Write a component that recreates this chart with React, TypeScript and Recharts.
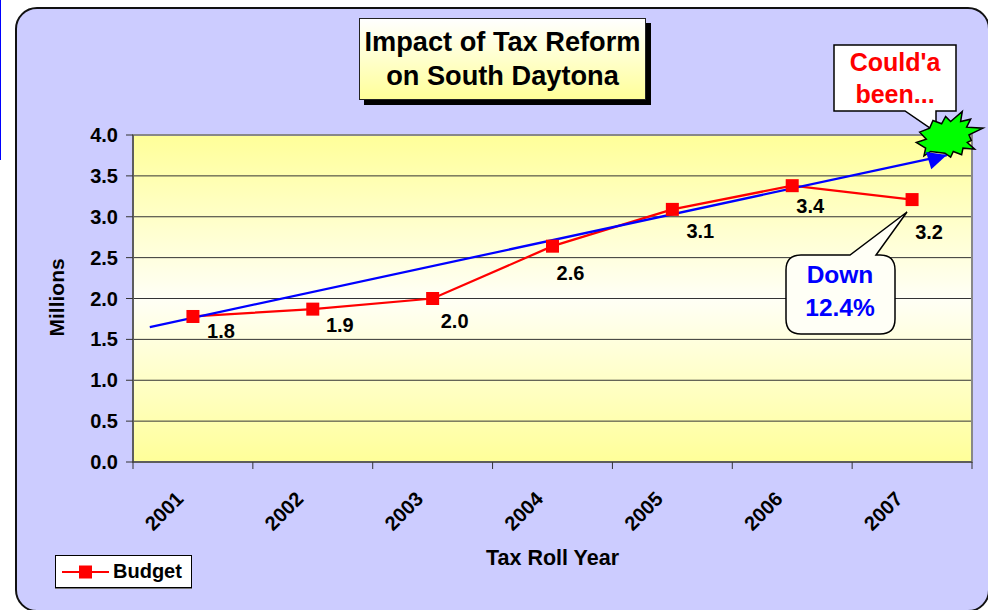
import React from "react";
import {
    ComposedChart,
    Line,
    XAxis,
    YAxis,
    CartesianGrid,
    ReferenceArea,
    ReferenceDot,
    Legend,
    LabelList,
} from "recharts";

const FONT = "'Liberation Sans', Arial, sans-serif";

const years = ["2001", "2002", "2003", "2004", "2005", "2006", "2007"];
const budget = [1.78, 1.87, 2.0, 2.64, 3.09, 3.38, 3.21];
const yTicks = [0, 0.5, 1, 1.5, 2, 2.5, 3, 3.5, 4];
const xTicks = [0, 1, 2, 3, 4, 5, 6, 7];

// trend arrow, in axis units (years sit at the middle of each slot)
const trendX = [0.14, 6.79];
const trendY = [1.65, 3.755];

// where each value label sits relative to its point
const labelDx = [28, 27, 22, 18, 28, 18, 17];
const labelDy = [15, 16, 22, 27, 22, 20, 32];

const budgetData = years.map((year, i) => ({ pos: i + 0.5, year, budget: budget[i] }));
const trendData = trendX.map((pos, i) => ({ pos, trend: trendY[i] }));

const burstPoints = [
    [42, 97], [72, 85], [82, 62], [108, 72], [120, 50], [135, 65], [170, 35], [165, 65],
    [195, 58], [183, 82], [232, 85], [190, 105], [197, 122], [185, 128], [207, 148], [172, 145],
    [168, 165], [143, 155], [135, 172], [118, 160], [75, 155], [55, 168], [60, 145], [32, 128],
    [62, 118],
];

const YearTick = (props: any) => {
    const { x, y, payload } = props;
    const label = years[payload.value];
    // y already includes recharts' default tick offset of 8px
    return (
        <g>
            <line x1={x} x2={x} y1={y - 8} y2={y - 1} stroke="#333" strokeWidth={1} />
            {label && (
                <text
                    x={x + 31}
                    y={y + 41}
                    transform={`rotate(-45 ${x + 31} ${y + 41})`}
                    textAnchor="middle"
                    dominantBaseline="central"
                    fontFamily={FONT}
                    fontWeight="bold"
                    fontSize={20}
                    fill="#000"
                >
                    {label}
                </text>
            )}
        </g>
    );
};

const SquareDot = (props: any) => (
    <rect key={props.index} x={props.cx - 6.5} y={props.cy - 6.5} width={13} height={13} fill="#ff0000" />
);

const ArrowDot = (props: any) => {
    const { cx, cy, index } = props;
    if (index !== trendX.length - 1) return <g key={index} />;
    return (
        <polygon
            key={index}
            points={`0,0 -19,-9 -19,9`}
            fill="#0000ff"
            transform={`translate(${cx} ${cy}) rotate(-17)`}
        />
    );
};

const Burst = (props: any) => {
    const { cx, cy } = props;
    const points = burstPoints
        .map(([px, py]) => `${cx + (px - 120) / 3},${cy + (py - 108) / 3}`)
        .join(" ");
    return <polygon points={points} fill="#00ff00" stroke="#000" strokeWidth={1.5} />;
};

const ValueLabel = (props: any) => {
    const { x, y, value, index } = props;
    return (
        <text
            x={x + labelDx[index]}
            y={y + labelDy[index]}
            textAnchor="middle"
            dominantBaseline="central"
            fontFamily={FONT}
            fontWeight="bold"
            fontSize={20}
            fill="#000"
        >
            {Number(value).toFixed(1)}
        </text>
    );
};

const BudgetLegend = (props: any) => {
    const item = props.payload?.[0];
    if (!item) return null;
    return (
        <div
            style={{
                boxSizing: "border-box",
                width: 137,
                height: 33,
                background: "#fff",
                border: "1px solid #000",
                boxShadow: "0 1px 0 #777",
                display: "flex",
                alignItems: "center",
                fontFamily: FONT,
                fontWeight: "bold",
                fontSize: 20,
                color: "#000",
            }}
        >
            <svg width={57} height={20} style={{ flex: "none" }}>
                <line x1={6} x2={53} y1={10} y2={10} stroke={item.color} strokeWidth={2} />
                <rect x={23} y={3.5} width={13} height={13} fill={item.color} />
            </svg>
            <span>{item.value}</span>
        </div>
    );
};

const App = () => {
    return (
        <div style={{ position: "absolute", left: 0, top: 0, width: 988, height: 610, overflow: "hidden", background: "#fff" }}>
            <div style={{ position: "absolute", left: 0, top: 0, width: 1, height: 160, background: "#0000ff" }} />
            <div
                style={{
                    position: "absolute",
                    left: 15,
                    top: 7,
                    width: 975,
                    height: 605,
                    boxSizing: "border-box",
                    background: "#ccccff",
                    border: "2px solid #111",
                    borderRadius: 22,
                }}
            />

            {/* Could'a been callout sits behind the chart so the burst covers its tail */}
            <svg width={988} height={610} style={{ position: "absolute", left: 0, top: 0 }}>
                <polygon
                    points="834,45 956,45 956,111 936,111 936,128 933,130 905,111 834,111"
                    fill="#fff"
                    stroke="#000"
                    strokeWidth={1.5}
                />
                <g fontFamily={FONT} fontWeight="bold" fontSize={25} fill="#ff0000" textAnchor="middle">
                    <text x={895} y={71}>Could'a</text>
                    <text x={895} y={103}>been...</text>
                </g>
            </svg>

            <div
                style={{
                    position: "absolute",
                    left: 359,
                    top: 18,
                    width: 287,
                    height: 82,
                    boxSizing: "border-box",
                    border: "1px solid #222",
                    background: "linear-gradient(#ffffff, #ffff99)",
                    boxShadow: "5px 5px 0 #000",
                    textAlign: "center",
                    fontFamily: FONT,
                    fontWeight: "bold",
                    fontSize: 27.2,
                    lineHeight: "34px",
                    color: "#000",
                    paddingTop: 6,
                    whiteSpace: "nowrap",
                }}
            >
                Impact of Tax Reform
                <br />
                on South Daytona
            </div>

            <div style={{ position: "absolute", left: 0, top: 0 }}>
                <ComposedChart
                    width={988}
                    height={610}
                    margin={{ top: 135, right: 16, bottom: 45, left: 63 }}
                >
                    <defs>
                        <linearGradient id="plotFill" x1="0" y1="0" x2="0" y2="1">
                            <stop offset="0%" stopColor="#ffff99" />
                            <stop offset="50%" stopColor="#fffff6" />
                            <stop offset="100%" stopColor="#ffff99" />
                        </linearGradient>
                    </defs>
                    <CartesianGrid vertical={false} stroke="#333" fill="url(#plotFill)" fillOpacity={1} />
                    <XAxis
                        type="number"
                        dataKey="pos"
                        domain={[0, 7]}
                        ticks={xTicks}
                        interval={0}
                        allowDataOverflow
                        height={103}
                        stroke="#333"
                        tickLine={false}
                        tick={<YearTick />}
                        label={{
                            value: "Tax Roll Year",
                            position: "insideBottom",
                            offset: 0,
                            fontFamily: FONT,
                            fontWeight: "bold",
                            fontSize: 21.5,
                            fill: "#000",
                        }}
                    />
                    <YAxis
                        type="number"
                        domain={[0, 4]}
                        ticks={yTicks}
                        interval={0}
                        width={70}
                        stroke="#333"
                        tickSize={7}
                        tickMargin={8}
                        tickFormatter={(v: number) => v.toFixed(1)}
                        tick={{ fontFamily: FONT, fontWeight: "bold", fontSize: 20, fill: "#000" }}
                        label={{
                            value: "Millions",
                            angle: -90,
                            position: "insideLeft",
                            offset: 0,
                            dx: -6,
                            dy: 38,
                            fontFamily: FONT,
                            fontWeight: "bold",
                            fontSize: 21,
                            fill: "#000",
                        }}
                    />
                    {/* gray frame along the top and right of the plot */}
                    <ReferenceArea
                        x1={0}
                        x2={7}
                        y1={0}
                        y2={4}
                        fill="none"
                        stroke="#888"
                        strokeWidth={2}
                    />
                    <ReferenceDot x={6.78} y={3.99} ifOverflow="visible" shape={<Burst />} />
                    <Line
                        data={budgetData}
                        dataKey="budget"
                        name="Budget"
                        stroke="#ff0000"
                        strokeWidth={2.25}
                        dot={SquareDot}
                        activeDot={false}
                        isAnimationActive={false}
                    >
                        <LabelList dataKey="budget" content={<ValueLabel />} />
                    </Line>
                    <Line
                        data={trendData}
                        dataKey="trend"
                        stroke="#0000ff"
                        strokeWidth={2.25}
                        dot={ArrowDot}
                        activeDot={false}
                        legendType="none"
                        isAnimationActive={false}
                    />
                    <Legend
                        layout="horizontal"
                        verticalAlign="middle"
                        content={<BudgetLegend />}
                        wrapperStyle={{ left: 55, top: 555, width: 137, height: 33 }}
                    />
                </ComposedChart>
            </div>

            <svg width={988} height={610} style={{ position: "absolute", left: 0, top: 0 }}>
                <path
                    d="M801,255 L850,255 L907,212 L876,255 L880,255 Q895,255 895,270 L895,319 Q895,334 880,334 L801,334 Q786,334 786,319 L786,270 Q786,255 801,255 Z"
                    fill="#fffff6"
                    stroke="#000"
                    strokeWidth={1.5}
                />
                <g fontFamily={FONT} fontWeight="bold" fontSize={24.5} fill="#0000ff" textAnchor="middle">
                    <text x={840} y={283}>Down</text>
                    <text x={840} y={316}>12.4%</text>
                </g>
            </svg>
        </div>
    );
};

export default App;
